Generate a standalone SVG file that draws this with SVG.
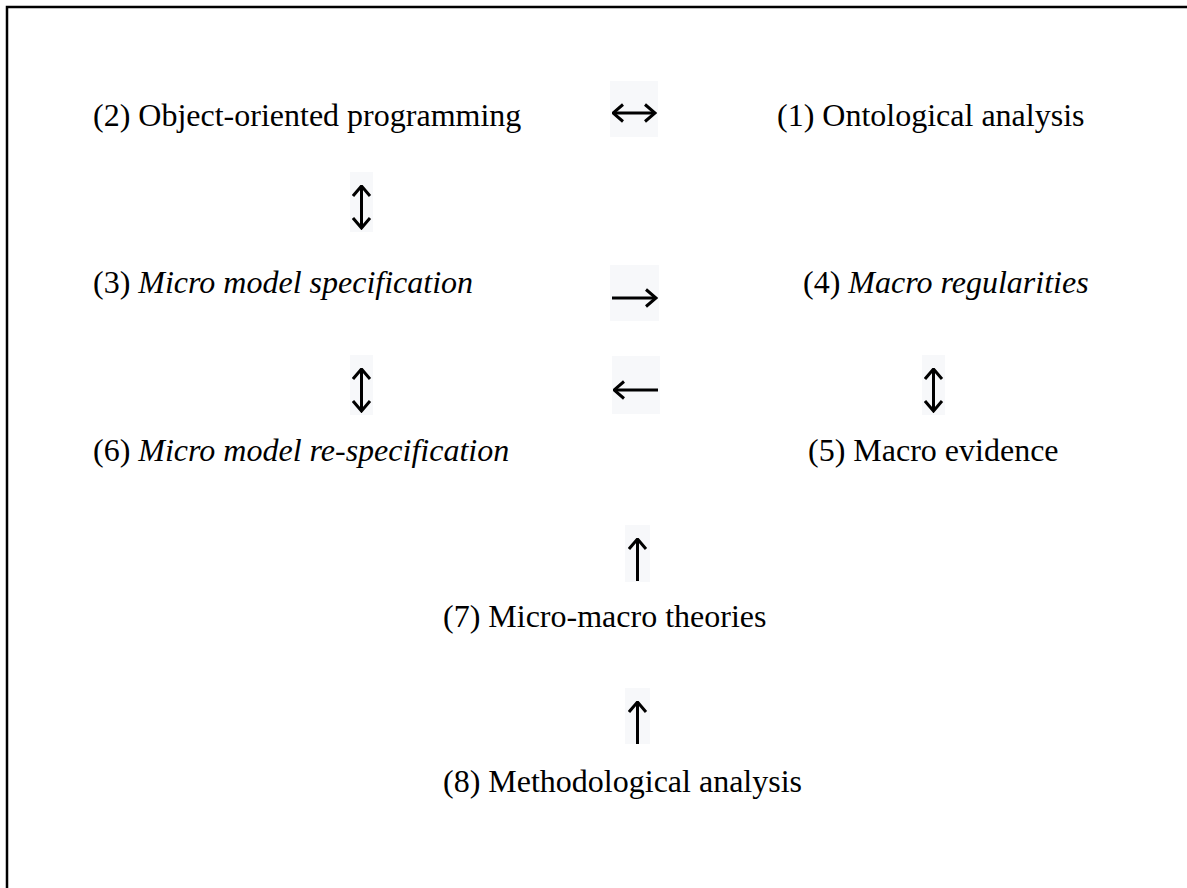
<svg xmlns="http://www.w3.org/2000/svg" width="1187" height="888" viewBox="0 0 1187 888">
<style>
.t{font-family:"Liberation Serif","Times New Roman",serif;font-size:32px;fill:#000}
.i{font-style:italic}
.bg{fill:#f7f8fa}
.a{stroke:#000;stroke-width:3;fill:none}
</style>
<defs>
<marker id="h" viewBox="0 0 13 20" refX="11.5" refY="10" markerWidth="13" markerHeight="20" markerUnits="userSpaceOnUse" orient="auto-start-reverse">
<path d="M1.5,1.5 L11.5,10 L1.5,18.5" fill="none" stroke="#000" stroke-width="3" stroke-linejoin="miter"/>
</marker>
</defs>
<rect width="1187" height="888" fill="#fff"/>
<path d="M7,888 V7 H1187" fill="none" stroke="#000" stroke-width="2.5"/>
<g id="n2"><text class="t" x="93" y="126">(2) Object-oriented programming</text></g>
<g id="n1"><text class="t" x="777" y="126">(1) Ontological analysis</text></g>
<g id="n3"><text class="t" x="93" y="293">(3) <tspan class="i">Micro model specification</tspan></text></g>
<g id="n4"><text class="t" x="803" y="293">(4) <tspan class="i">Macro regularities</tspan></text></g>
<g id="n6"><text class="t" x="93" y="461">(6) <tspan class="i">Micro model re-specification</tspan></text></g>
<g id="n5"><text class="t" x="808" y="461">(5) Macro evidence</text></g>
<g id="n7"><text class="t" x="443" y="627">(7) Micro-macro theories</text></g>
<g id="n8"><text class="t" x="443" y="792">(8) Methodological analysis</text></g>
<g id="connectors">
<rect class="bg" x="610" y="81" width="48" height="56"/>
<path class="a" d="M613,113 H655" marker-start="url(#h)" marker-end="url(#h)"/>
<rect class="bg" x="350" y="172" width="23" height="60"/>
<path class="a" d="M361.5,186 V228" marker-start="url(#h)" marker-end="url(#h)"/>
<rect class="bg" x="610" y="265" width="49" height="56"/>
<path class="a" d="M612,298 H656" marker-end="url(#h)"/>
<rect class="bg" x="612" y="356" width="48" height="58"/>
<path class="a" d="M658,390 H614" marker-end="url(#h)"/>
<rect class="bg" x="350" y="355" width="23" height="60"/>
<path class="a" d="M361.5,369 V411" marker-start="url(#h)" marker-end="url(#h)"/>
<rect class="bg" x="922" y="355" width="23" height="60"/>
<path class="a" d="M933.5,369 V411" marker-start="url(#h)" marker-end="url(#h)"/>
<rect class="bg" x="625" y="525" width="25" height="57"/>
<path class="a" d="M637.5,581 V539" marker-end="url(#h)"/>
<rect class="bg" x="625" y="688" width="25" height="56"/>
<path class="a" d="M637.5,744 V702" marker-end="url(#h)"/>
</g>
</svg>
